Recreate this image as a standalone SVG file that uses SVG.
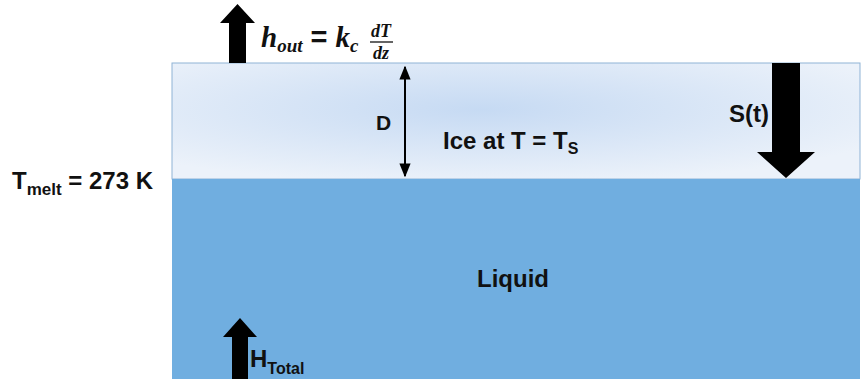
<svg xmlns="http://www.w3.org/2000/svg" width="863" height="379" viewBox="0 0 863 379">
<style>
.t{font-family:"Liberation Sans",Arial,sans-serif;font-weight:bold;fill:#111}
.m{font-family:"Liberation Serif","Times New Roman",serif;font-weight:bold;font-style:italic;fill:#111}
.blk{fill:#000}
</style>
<defs>
<radialGradient id="ice" cx="0.45" cy="0.4" r="0.65">
<stop offset="0" stop-color="#c6daf3"/>
<stop offset="1" stop-color="#ecf2fa"/>
</radialGradient>
<marker id="ah" viewBox="0 0 10 10" refX="9" refY="5" markerWidth="7" markerHeight="7" orient="auto-start-reverse">
<path d="M0,1 L10,5 L0,9 z" fill="#000"/>
</marker>
</defs>
<rect width="863" height="379" fill="#fff"/>
<g id="ice-layer">
<rect x="172" y="63" width="688" height="116" fill="url(#ice)" stroke="#8fb3d6" stroke-width="1"/>
<text class="t" x="443" y="149" font-size="24">Ice at T = T<tspan font-size="16" dy="5">S</tspan></text>
</g>
<g id="liquid-layer">
<rect x="172" y="179" width="688" height="200" fill="#70aee0"/>
<text class="t" x="477" y="287" font-size="24">Liquid</text>
</g>
<g id="tmelt">
<text class="t" x="12" y="189" font-size="24">T<tspan font-size="17" dy="6">melt</tspan><tspan dy="-6"> = 273 K</tspan></text>
</g>
<g id="hout">
<text class="m" x="261" y="47" font-size="29">h<tspan font-size="19" dy="5">out</tspan><tspan dy="-5" font-style="normal" font-family="Liberation Sans, Arial, sans-serif"> = </tspan>k<tspan font-size="19" dy="5">c</tspan></text>
<text class="m" x="381" y="37" font-size="18" text-anchor="middle">dT</text>
<line x1="370" y1="42" x2="393" y2="42" stroke="#111" stroke-width="1.3"/>
<text class="m" x="381" y="59" font-size="18" text-anchor="middle">dz</text>
</g>
<g id="D-label">
<text class="t" x="376" y="130" font-size="21">D</text>
</g>
<g id="S-label">
<text class="t" x="729" y="122" font-size="24">S(t)</text>
</g>
<g id="HTotal-label">
<text class="t" x="250" y="367" font-size="24">H<tspan font-size="16" dy="7">Total</tspan></text>
</g>
<g id="connectors">
<path class="blk" d="M229,63 L229,23 L220,23 L237.5,4 L255,23 L246,23 L246,63 z"/>
<path class="blk" d="M772,63 L800,63 L800,152 L815,152 L786,178 L757,152 L772,152 z"/>
<path class="blk" d="M232,379 L232,337 L223,337 L240,318 L257,337 L248,337 L248,379 z"/>
<line x1="405" y1="67" x2="405" y2="176" stroke="#000" stroke-width="2" marker-start="url(#ah)" marker-end="url(#ah)"/>
</g>
</svg>
